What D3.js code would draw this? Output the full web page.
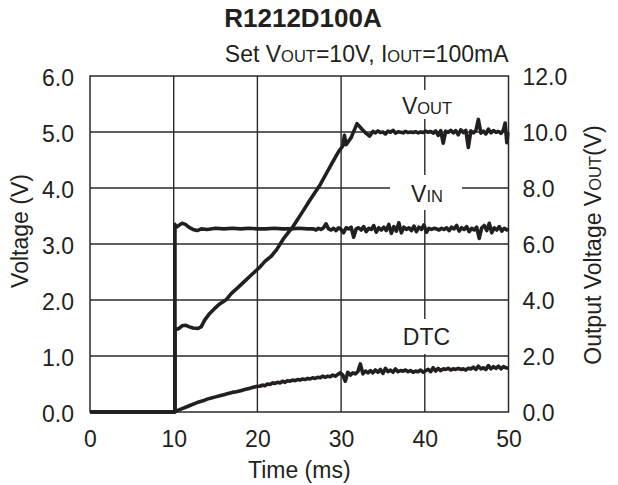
<!DOCTYPE html>
<html><head><meta charset="utf-8">
<script src="https://cdn.jsdelivr.net/npm/d3@7"></script>
<style>
body{margin:0;background:#fff}
text{font-family:"Liberation Sans",Arial,Helvetica,sans-serif;fill:#231f20}
</style>
</head><body>
<svg id="chart" width="618" height="485"></svg>
<script>
// ---- data ----
const xTicks = [0, 10, 20, 30, 40, 50];
const xTickLabels = ["0", "10", "20", "30", "40", "50"];
const yLeftTicks = [0, 1, 2, 3, 4, 5, 6];
const yLeftLabels = ["0.0", "1.0", "2.0", "3.0", "4.0", "5.0", "6.0"];
const yRightTicks = [0, 2, 4, 6, 8, 10, 12];
const yRightLabels = ["0.0", "2.0", "4.0", "6.0", "8.0", "10.0", "12.0"];

// VIN (left axis, V) : [time ms, volts]
const vinData = [[0,0],[10.15,0],[10.15,3.35],[10.3,3.30],[10.6,3.33],[11.0,3.37],[11.4,3.35],[11.8,3.30],[12.3,3.26],[12.8,3.24],[13.3,3.27],[14,3.26],[15,3.28],[16,3.27],[17,3.28],[18,3.27],[19,3.28],[20,3.27],[21,3.27],[22,3.28],[23,3.27],[24,3.27],[25,3.28],[26,3.27],
[26.7,3.27],[27.0,3.25],[27.3,3.28],[27.6,3.26],[27.9,3.29],[28.2,3.36],[28.5,3.27],[28.8,3.25],[29.1,3.28],[29.4,3.24],[29.7,3.29],[30.0,3.26],[30.3,3.20],[30.6,3.29],[30.9,3.27],[31.2,3.30],[31.5,3.12],[31.8,3.27],[32.1,3.29],[32.4,3.25],[32.7,3.31],[33.0,3.22],[33.3,3.28],[33.6,3.26],[33.9,3.33],[34.2,3.21],[34.5,3.29],[34.8,3.25],[35.1,3.30],[35.4,3.24],[35.7,3.35],[36.0,3.19],[36.3,3.31],[36.6,3.23],[36.9,3.38],[37.2,3.20],[37.5,3.30],[37.8,3.26],[38.1,3.29],[38.4,3.24],[38.7,3.32],[39.0,3.22],[39.3,3.30],[39.6,3.26],[39.9,3.34],[40.2,3.21],[40.5,3.28],[40.8,3.26],[41.1,3.28],[41.4,3.27],[41.7,3.25],[42.0,3.28],[42.3,3.26],[42.6,3.29],[42.9,3.24],[43.2,3.30],[43.5,3.27],[43.8,3.33],[44.1,3.23],[44.4,3.29],[44.7,3.26],[45.0,3.31],[45.3,3.22],[45.6,3.28],[45.9,3.25],[46.2,3.30],[46.5,3.10],[46.8,3.29],[47.1,3.33],[47.4,3.24],[47.7,3.37],[48.0,3.20],[48.3,3.29],[48.6,3.25],[48.9,3.31],[49.2,3.23],[49.5,3.28],[49.8,3.25],[50.0,3.27]];

// VOUT (right axis, V) : [time ms, volts]
const voutData = [[0,0],[10.15,0],[10.15,2.93],[10.6,2.98],[11.0,3.08],[11.4,3.10],[11.8,3.05],[12.3,3.00],[12.9,2.98],[13.3,3.05],[13.7,3.28],[14.3,3.52],[14.9,3.70],[15.5,3.86],[16.3,4.02],[16.9,4.24],[17.7,4.45],[18.3,4.62],[19.3,4.90],[20.3,5.18],[20.9,5.38],[21.7,5.58],[22.3,5.80],[23.1,6.18],[23.8,6.45],[24.3,6.64],[25.5,7.20],[26.3,7.58],[27.5,8.12],[28.2,8.50],[28.9,8.88],[29.7,9.30],[30.2,9.50],[30.4,9.88],[30.6,9.55],[31.2,9.80],[31.9,10.30],[32.5,10.10],[33.0,9.95],[33.4,9.85],
[33.8,10.02],[34.1,9.97],[34.4,10.04],[34.7,9.98],[35.0,10.00],[35.3,9.93],[35.6,10.03],[35.9,9.99],[36.2,10.06],[36.5,9.96],[36.8,10.01],[37.1,9.99],[37.4,9.97],[37.7,10.02],[38.0,9.98],[38.3,10.00],[38.6,9.98],[38.9,10.01],[39.2,9.97],[39.5,10.00],[39.8,9.98],[40.1,10.03],[40.4,9.99],[40.7,10.02],[41.0,9.96],[41.3,10.04],[41.6,9.88],[41.9,10.05],[42.2,9.60],[42.5,10.03],[42.8,9.99],[43.1,10.06],[43.4,9.97],[43.7,10.05],[44.0,9.90],[44.3,10.08],[44.6,9.98],[44.9,10.06],[45.2,9.45],[45.5,10.04],[45.8,9.97],[46.1,10.05],[46.4,10.45],[46.7,9.96],[47.0,10.03],[47.3,9.93],[47.6,10.10],[47.9,9.97],[48.2,10.05],[48.5,9.99],[48.8,10.02],[49.1,9.95],[49.4,10.08],[49.6,10.32],[49.8,9.62],[50.0,10.00]];

// DTC (left axis, V) : [time ms, volts]
const dtcData = [[0,0],[10.0,0],[10.15,0.01],[10.5,0.03],[11,0.06],[11.5,0.09],[12,0.12],[12.5,0.15],[13,0.18],[13.5,0.20],[14,0.23],[14.5,0.25],[15,0.27],[15.5,0.29],[16,0.31],[16.5,0.33],[17,0.35],[17.5,0.36],[18,0.38],[18.5,0.40],[19,0.42],[19.5,0.44],[20,0.46],
[20.3,0.46],[20.6,0.48],[20.9,0.47],[21.2,0.50],[21.5,0.49],[21.8,0.52],[22.1,0.51],[22.4,0.53],[22.7,0.52],[23.0,0.55],[23.3,0.53],[23.6,0.56],[23.9,0.55],[24.2,0.57],[24.5,0.56],[24.8,0.58],[25.1,0.57],[25.4,0.59],[25.7,0.58],[26.0,0.60],[26.3,0.59],[26.6,0.61],[26.9,0.60],[27.2,0.62],[27.5,0.61],[27.8,0.64],[28.1,0.62],[28.4,0.64],[28.7,0.63],[29.0,0.66],[29.3,0.64],[29.6,0.67],[29.9,0.70],[30.2,0.66],[30.5,0.55],[30.8,0.71],[31.1,0.66],[31.4,0.70],[31.7,0.68],[32.0,0.72],[32.3,0.86],[32.6,0.68],[32.9,0.73],[33.2,0.70],[33.5,0.74],[33.8,0.70],[34.1,0.75],[34.4,0.71],[34.7,0.76],[35.0,0.69],[35.3,0.78],[35.6,0.72],[35.9,0.75],[36.2,0.71],[36.5,0.77],[36.8,0.72],[37.1,0.74],[37.4,0.73],[37.7,0.75],[38.0,0.72],[38.3,0.74],[38.6,0.71],[38.9,0.73],[39.2,0.72],[39.5,0.75],[39.8,0.71],[40.1,0.74],[40.4,0.76],[40.7,0.72],[41.0,0.79],[41.3,0.73],[41.6,0.78],[41.9,0.74],[42.2,0.77],[42.5,0.76],[42.8,0.78],[43.1,0.75],[43.4,0.77],[43.7,0.76],[44.0,0.78],[44.3,0.76],[44.6,0.77],[44.9,0.75],[45.2,0.78],[45.5,0.77],[45.8,0.80],[46.1,0.76],[46.4,0.82],[46.7,0.77],[47.0,0.79],[47.3,0.76],[47.6,0.83],[47.9,0.77],[48.2,0.81],[48.5,0.78],[48.8,0.82],[49.1,0.77],[49.4,0.81],[49.7,0.79],[50.0,0.78]];

// ---- drawing ----
const svg = d3.select("#chart");
const L = 90, R = 508.5, T = 76, B = 412;
const x = d3.scaleLinear().domain([0, 50]).range([L, R]);
const yL = d3.scaleLinear().domain([0, 6]).range([B, T]);
const yR = d3.scaleLinear().domain([0, 12]).range([B, T]);
const ink = "#231f20";
const FS = 23;

// grid
const grid = svg.append("g").attr("stroke", "#2a2a2a").attr("stroke-width", 1.4);
grid.selectAll(".vg").data(xTicks.slice(1, -1)).join("line")
  .attr("x1", d => x(d)).attr("x2", d => x(d)).attr("y1", T).attr("y2", B);
grid.selectAll(".hg").data(yLeftTicks.slice(1, -1)).join("line")
  .attr("x1", L).attr("x2", R).attr("y1", d => yL(d)).attr("y2", d => yL(d));

// label masks (gridline gaps around labels)
const masks = [[395, 90, 65, 29], [390, 175, 72, 35], [395, 319, 65, 35]];
svg.selectAll(".mask").data(masks).join("rect")
  .attr("x", d => d[0]).attr("y", d => d[1]).attr("width", d => d[2]).attr("height", d => d[3])
  .attr("fill", "#fff");

// frame
svg.append("rect").attr("x", L).attr("y", T).attr("width", R - L).attr("height", B - T)
  .attr("fill", "none").attr("stroke", "#2a2a2a").attr("stroke-width", 1.5);

// axes
const ax = svg.append("g").attr("transform", `translate(0,${B})`)
  .call(d3.axisBottom(x).tickValues(xTicks).tickSize(0).tickPadding(19)
    .tickFormat((d, i) => xTickLabels[i]));
const ayL = svg.append("g").attr("transform", `translate(${L},0)`)
  .call(d3.axisLeft(yL).tickValues(yLeftTicks).tickSize(0).tickPadding(16)
    .tickFormat((d, i) => yLeftLabels[i]));
const ayR = svg.append("g").attr("transform", `translate(${R},0)`)
  .call(d3.axisRight(yR).tickValues(yRightTicks).tickSize(0).tickPadding(14)
    .tickFormat((d, i) => yRightLabels[i]));
[ax, ayL, ayR].forEach(g => {
  g.select(".domain").remove();
  g.selectAll("text").attr("font-size", FS)
    .attr("font-family", '"Liberation Sans",Arial,sans-serif').attr("fill", ink);
});
ayL.selectAll("text").attr("dy", "0.42em");
ayR.selectAll("text").attr("dy", "0.35em");

// curves
const clip = svg.append("clipPath").attr("id", "pc").append("rect")
  .attr("x", L).attr("y", T - 2).attr("width", R - L + 1).attr("height", B - T + 4);
const lineL = d3.line().x(d => x(d[0])).y(d => yL(d[1]));
const lineR = d3.line().x(d => x(d[0])).y(d => yR(d[1]));
const cg = svg.append("g").attr("clip-path", "url(#pc)")
  .attr("fill", "none").attr("stroke", ink).attr("stroke-width", 3.6)
  .attr("stroke-linejoin", "round");
cg.append("path").attr("d", lineL(dtcData));
cg.append("path").attr("d", lineL(vinData));
cg.append("path").attr("d", lineR(voutData));

// texts
function subText(sel, parts) {
  parts.forEach(p => sel.append("tspan").attr("font-size", p[1]).text(p[0]));
}
svg.append("text").attr("x", 303).attr("y", 27).attr("text-anchor", "middle")
  .attr("font-size", 26).attr("font-weight", "bold").attr("fill", "#000").text("R1212D100A");
subText(svg.append("text").attr("x", R).attr("y", 62).attr("text-anchor", "end").attr("font-size", FS),
  [["Set V", FS], ["OUT", 16.5], ["=10V, I", FS], ["OUT", 16.5], ["=100mA", FS]]);

svg.append("text").attr("transform", "translate(28,231) rotate(-90)")
  .attr("text-anchor", "middle").attr("font-size", FS).text("Voltage (V)");
subText(svg.append("text").attr("transform", "translate(601,245) rotate(-90)")
  .attr("text-anchor", "middle").attr("font-size", FS),
  [["Output Voltage V", FS], ["OUT", 16.5], ["(V)", FS]]);
svg.append("text").attr("x", (L + R) / 2).attr("y", 478).attr("text-anchor", "middle")
  .attr("font-size", FS).text("Time (ms)");

subText(svg.append("text").attr("x", 427).attr("y", 114).attr("text-anchor", "middle").attr("font-size", FS),
  [["V", FS], ["OUT", 16.5]]);
subText(svg.append("text").attr("x", 427).attr("y", 201.5).attr("text-anchor", "middle").attr("font-size", FS),
  [["V", FS], ["IN", 16.5]]);
svg.append("text").attr("x", 426.5).attr("y", 345).attr("text-anchor", "middle")
  .attr("font-size", FS).text("DTC");
</script>
</body></html>
